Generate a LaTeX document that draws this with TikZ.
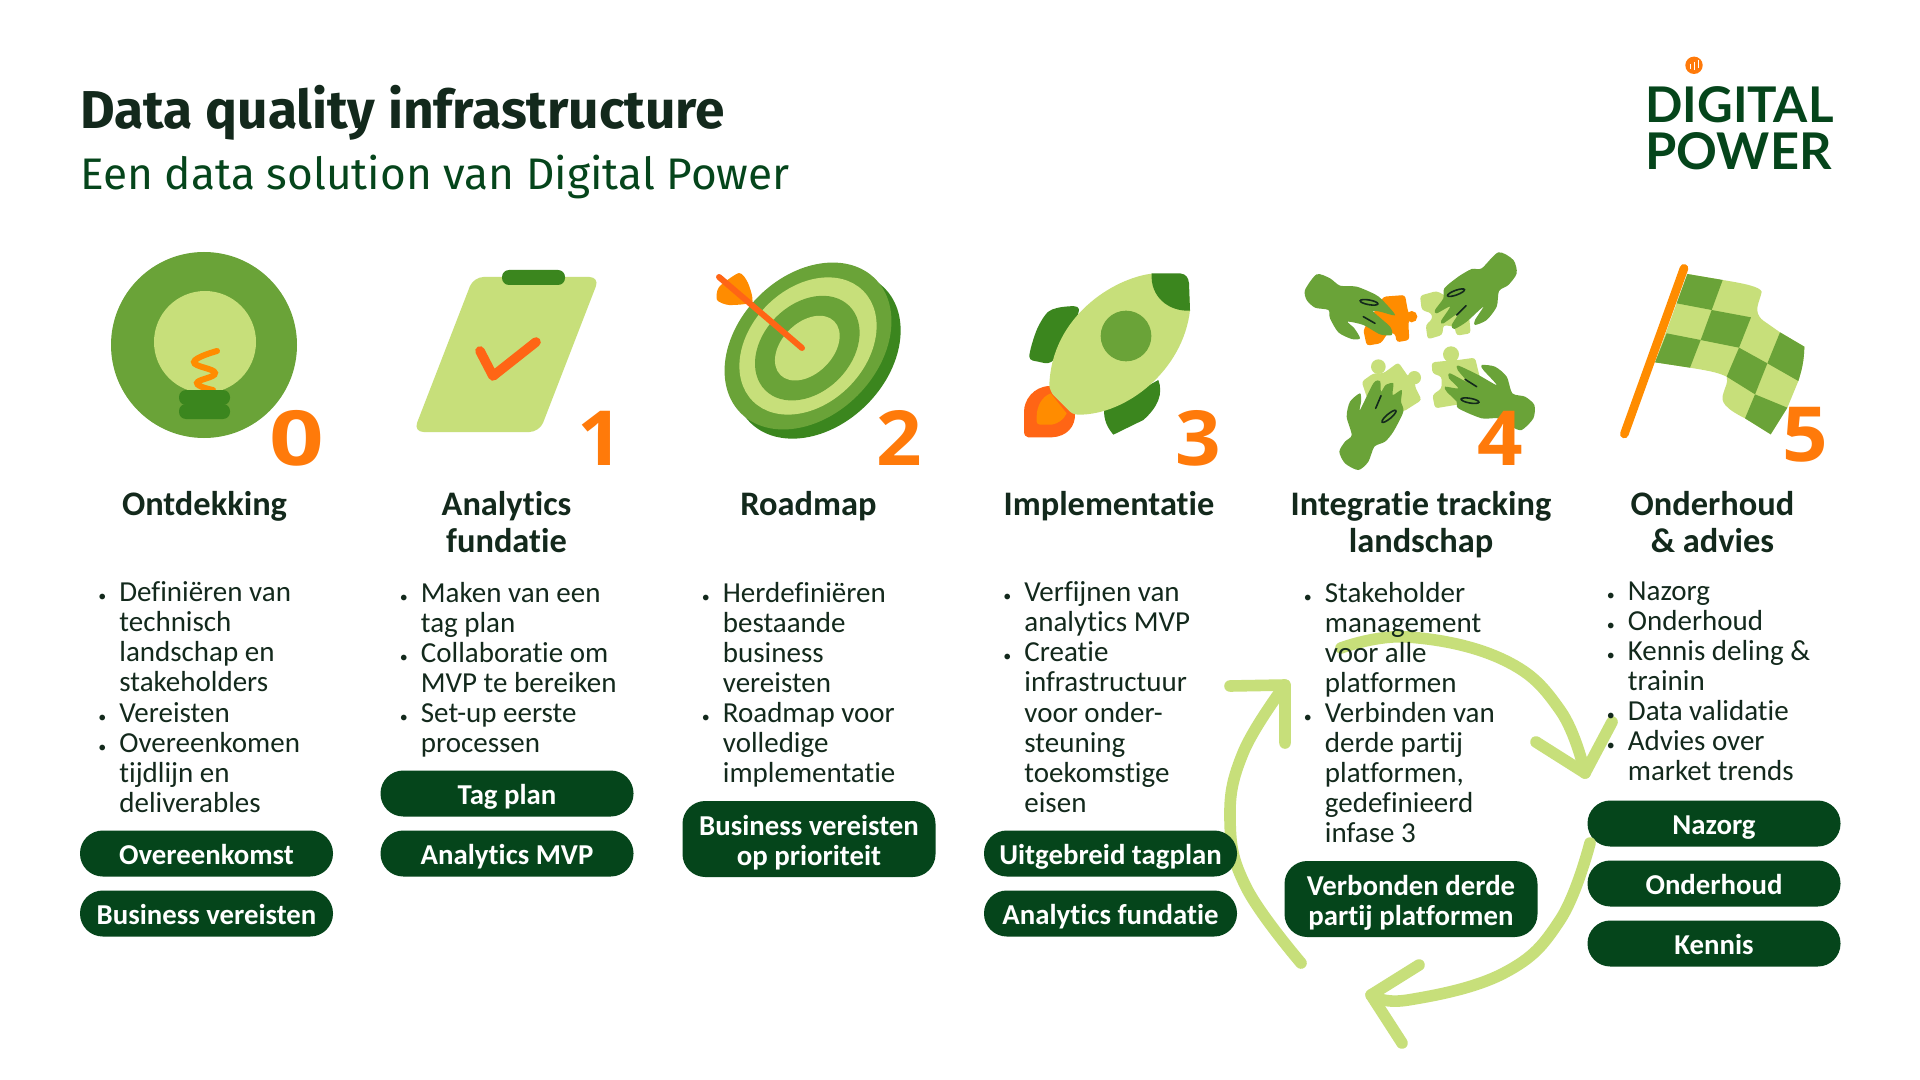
\documentclass[tikz,border=0pt]{standalone}
\usepackage{fontspec}
\setmainfont{Carlito}[Ligatures=NoCommon]
\newfontfamily\headfont{Fira Sans}
\newfontfamily\logofont{Lato}
\newfontfamily\digitfont{Open Sans}
\usetikzlibrary{calc}

\definecolor{pinegreen}{HTML}{05451B}
\definecolor{inkgreen}{HTML}{13291C}
\definecolor{midgreen}{HTML}{6AA338}
\definecolor{deepgreen}{HTML}{3B861E}
\definecolor{palegreen}{HTML}{C7DF7A}
\definecolor{amber}{HTML}{FF8C00}
\definecolor{flame}{HTML}{FF6515}
\definecolor{digitorange}{HTML}{FF7A0A}

\tikzset{
    pill/.style={fill=pinegreen, text=white, rounded corners=11.4pt, minimum width=126.5pt,
        minimum height=23pt, inner sep=0pt, align=center,
        font=\fontsize{14.4}{15.1}\selectfont\bfseries,
        execute at begin node=\rule[-3.3pt]{0pt}{17.1pt}},
    pilltwo/.style={pill, minimum height=38pt},
    bulletlist/.style={anchor=north west, inner sep=0pt, align=left, text=inkgreen,
        font=\fontsize{14.5}{15.02}\selectfont, execute at begin node=\rule{0pt}{11pt}},
    coltitle/.style={anchor=north, inner sep=0pt, align=center, text=inkgreen,
        font=\fontsize{17.2}{18.4}\selectfont\bfseries, execute at begin node=\rule{0pt}{14pt}},
    numeral/.style={anchor=base, inner sep=0pt, text=digitorange, xscale=1.05, transform shape,
        font=\digitfont\fontsize{38}{38}\selectfont\bfseries},
    cyclearc/.style={draw=palegreen, line width=5.8pt, line cap=round, line join=round},
    nail/.style={draw=inkgreen, line width=.8pt, line cap=round},
    zoomed/.style={x=.16667pt, y=-.16667pt}
}

\newcommand{\bl}{\makebox[10.5pt][l]{\fontsize{8}{8}\selectfont •}}
\newcommand{\ct}{\hspace*{10.5pt}}
\newcommand{\topline}{\rule{0pt}{14.5pt}}

\begin{document}
\begin{tikzpicture}[x=.5pt,y=-.5pt]
    \def\handtl{plot[smooth cycle, tension=.45] coordinates {(30,135) (65,88) (105,100) (135,122)
        (185,125) (240,148) (262,165) (300,210) (255,200) (235,200) (285,245) (290,270) (255,268)
        (205,240) (158,230) (178,250) (195,280) (170,282) (130,262) (105,220) (100,195) (60,188) (35,165)}}
    \def\handtr{plot[smooth cycle, tension=.45] coordinates {(610,22) (655,45) (665,85) (640,120)
        (612,138) (605,185) (575,225) (540,240) (540,225) (565,185) (515,230) (478,252) (470,240)
        (490,205) (445,235) (438,228) (465,185) (425,205) (420,195) (445,160) (448,130) (490,95)
        (530,72) (560,70)}}
    \def\handbl{plot[smooth cycle, tension=.45] coordinates {(190,675) (150,655) (133,620) (150,590)
        (170,570) (155,515) (165,470) (195,445) (198,470) (195,495) (235,415) (255,408) (258,440)
        (272,420) (295,415) (293,450) (320,435) (318,470) (325,500) (295,560) (270,590) (238,605) (220,650)}}
    \def\handbr{plot[smooth cycle, tension=.45] coordinates {(680,555) (715,520) (718,480) (690,455)
        (652,445) (635,395) (600,365) (560,360) (565,375) (605,420) (550,390) (490,362) (488,375)
        (515,410) (465,385) (462,400) (490,430) (450,425) (455,440) (485,470) (490,490) (560,520)
        (610,520) (650,545)}}

    \useasboundingbox (0,0) rectangle (1920,1080);
    \fill[white] (0,0) rectangle (1920,1080);

    % heading and logo
    \node[anchor=base west, inner sep=0pt, text=inkgreen, font=\headfont\fontsize{26.65}{27}\selectfont\bfseries] (heading) at (80,129) {Data quality infrastructure};
    \node[anchor=base west, inner sep=0pt, text=pinegreen, font=\headfont\fontsize{22.1}{22}\selectfont] (subheading) at (80,190) {Een data solution van Digital Power};
    \node[anchor=base west, inner sep=0pt, text=pinegreen, font=\logofont\fontsize{24.6}{25}\selectfont\bfseries] (logoa) at (1645,123) {DIGITAL};
    \node[anchor=base west, inner sep=0pt, text=pinegreen, font=\logofont\fontsize{25.3}{25}\selectfont\bfseries] (logob) at (1645,170) {POWER};
    \fill[digitorange] (1694,65.3) circle (8.7);
    \draw[white, line width=.5pt] (1690,64) -- (1690,69) (1694,62) -- (1694,70) (1698,60) -- (1698,68);

    % bulb
    \fill[midgreen] (204,345) circle (93);
    \fill[palegreen] (205,342) circle (51);
    \draw[amber, line width=3pt, line cap=round] plot[smooth, tension=.8] coordinates {(217,351) (194,362) (215,373) (197,383) (213,390)};
    \fill[deepgreen, rounded corners=3.5pt] (179,390) rectangle (230,405);
    \fill[deepgreen, rounded corners=3.5pt] (179,404) rectangle (230,419);

    % clipboard
    \fill[palegreen, rounded corners=5pt] (473.5,277) -- (599.5,277) -- (539.5,432) -- (413.5,432) -- cycle;
    \fill[deepgreen, rounded corners=3.5pt] (502,270) rectangle (565,285);
    \draw[flame, line width=4.8pt, line cap=round, line join=round] (480,351) -- (493,376) -- (536,342);

    % target
    \begin{scope}[shift={(808,346)}, rotate=45]
        \fill[deepgreen] (0,13) circle [x radius=95, y radius=70];
        \fill[midgreen] (0,0) circle [x radius=95, y radius=70];
        \fill[palegreen] (0,0) circle [x radius=78, y radius=57.7];
        \fill[midgreen] (-2,1) circle [x radius=59.5, y radius=44];
        \fill[palegreen] (-2,1) circle [x radius=38, y radius=25.5];
    \end{scope}
    \fill[amber] plot[smooth cycle, tension=.4] coordinates {(719,287) (739,273) (748,283) (752,302) (729,305) (717,300)};
    \draw[flame, line width=3pt, line cap=round] (719,277) -- (802,348);

    % rocket
    \begin{scope}[shift={(1010,260)}, zoomed]
        \fill[deepgreen] plot[smooth cycle, tension=.5] coordinates {(207,148) (165,140) (115,155) (80,210) (58,290) (85,305) (125,305) (170,240)};
        \fill[deepgreen] (445,360) .. controls (460,400) and (445,440) .. (400,480) -- (310,524) .. controls (290,500) and (282,480) .. (282,450) -- cycle;
        \fill[flame] (118,378) .. controls (70,380) and (42,420) .. (42,455) -- (42,515) .. controls (42,525) and (48,532) .. (55,532) -- (125,532) .. controls (170,530) and (197,500) .. (195,460) -- cycle;
        \fill[amber] (122,400) .. controls (95,410) and (80,440) .. (80,470) -- (80,485) .. controls (80,490) and (85,494) .. (90,494) -- (125,494) .. controls (145,490) and (160,480) .. (170,460) -- cycle;
        \fill[palegreen] (425,41) .. controls (310,55) and (125,170) .. (118,375) .. controls (118,385) and (125,400) .. (130,405) -- (175,450) .. controls (185,460) and (190,463) .. (205,464) .. controls (350,465) and (520,330) .. (540,150) -- (535,70) -- cycle;
        \fill[deepgreen] (425,40) -- (510,40) .. controls (530,42) and (535,55) .. (537,70) -- (540,152) .. controls (475,155) and (420,110) .. (425,40) -- cycle;
        \fill[midgreen] (348,228) circle (76);
    \end{scope}

    % puzzle hands
    \begin{scope}[shift={(1295,245)}, zoomed]
        \fill[amber, rounded corners=1.5pt] (265,155) -- (330,150) -- (338,195) -- (345,215) -- (340,235) -- (343,285) -- (305,292) -- (300,265) -- (280,262) -- (258,295) -- (215,302) -- (205,255) -- cycle;
        \fill[amber] (350,215) circle (17);
        \fill[palegreen, rounded corners=1.5pt] (375,152) -- (425,138) -- (520,190) -- (527,265) -- (485,272) -- (478,245) -- (445,240) -- (442,270) -- (398,283) -- (392,240) -- (412,222) -- (410,205) -- (380,195) -- cycle;
        \fill[palegreen] (250,365) circle (22);
        \fill[palegreen] (358,398) circle (20);
        \fill[palegreen, rounded corners=1.5pt] (200,410) -- (235,385) -- (265,385) -- (310,352) -- (340,395) -- (360,400) -- (360,425) -- (380,465) -- (325,500) -- (220,470) -- cycle;
        \fill[palegreen] (468,328) circle (24);
        \fill[palegreen, rounded corners=1.5pt] (410,352) -- (450,348) -- (490,345) -- (540,338) -- (560,420) -- (540,470) -- (420,490) -- (412,450) -- (440,430) -- (440,395) -- (412,385) -- cycle;
        \fill[midgreen] \handtl;
        \fill[midgreen] \handtr;
        \fill[midgreen] \handbl;
        \fill[midgreen] \handbr;
        \draw[nail] (222,172) circle [x radius=27, y radius=7, rotate=-10];
        \draw[nail] (483,143) circle [x radius=27, y radius=7, rotate=20];
        \draw[nail] (282,514) circle [x radius=27, y radius=7, rotate=40];
        \draw[nail] (525,467) circle [x radius=27, y radius=7, rotate=-10];
        \draw[nail] (205,215) -- (240,235) (485,210) -- (513,182) (242,490) -- (258,452) (510,403) -- (545,425);
    \end{scope}

    % flag
    \begin{scope}[shift={(1610,255)}, zoomed]
        \fill[palegreen] (232,57) -- (338,75) .. controls (400,85) and (450,95) .. (455,110)
            .. controls (450,140) and (425,170) .. (460,197) -- (510,232) -- (583,275)
            .. controls (582,320) and (575,345) .. (565,378) -- (532,458) -- (482,538) -- (405,490)
            .. controls (345,460) and (330,440) .. (340,415) .. controls (345,395) and (355,385) .. (350,365)
            .. controls (320,350) and (280,345) .. (240,338) -- (135,322) -- cycle;
        \fill[midgreen] (232,57) -- (338,75) -- (305,165) -- (200,145) -- cycle;
        \fill[midgreen] (305,165) -- (423,187) -- (387,278) -- (272,255) -- cycle;
        \fill[midgreen] (170,235) -- (272,255) -- (240,338) -- (135,322) -- cycle;
        \fill[midgreen] (510,232) -- (583,275) .. controls (582,320) and (575,345) .. (565,378) -- (472,325) -- cycle;
        \fill[midgreen] (387,278) -- (472,325) -- (435,418) -- (350,365) -- cycle;
        \fill[midgreen] (435,418) -- (532,458) -- (482,538) -- (405,490) -- cycle;
        \draw[amber, line width=4.3pt, line cap=round] (222,40) -- (43,537);
    \end{scope}

    % numerals
    \node[numeral, xscale=1.2] (num0) at (296.8,465) {0};
    \node[numeral] (num1) at (600,465) {1};
    \node[numeral] (num2) at (899.5,465) {2};
    \node[numeral] (num3) at (1198,465) {3};
    \node[numeral] (num4) at (1500.5,465) {4};
    \node[numeral] (num5) at (1805.5,461) {5};

    % cycle behind the text
    \draw[cyclearc] plot[smooth, tension=.7] coordinates {(1341,648) (1408,637) (1504,660) (1560,710) (1585,773)};
    \draw[cyclearc] (1536,742) -- (1585,773) -- (1612,722);
    \draw[cyclearc] plot[smooth, tension=.7] coordinates {(1301,963) (1246,887) (1230,820) (1243,753) (1285,685)};
    \draw[cyclearc] (1230,686) -- (1285,685) -- (1285,743);

    % column titles
    \node[coltitle] (title0) at (204.5,487.5) {Ontdekking};
    \node[coltitle] (title1) at (506.5,491) {Analytics\\fundatie};
    \node[coltitle] (title2) at (808.5,487.5) {Roadmap};
    \node[coltitle] (title3) at (1109,487.5) {Implementatie};
    \node[coltitle] (title4) at (1421,491) {Integratie tracking\\landschap};
    \node[coltitle] (title5) at (1712.5,491) {Onderhoud\\\& advies};

    % bullet lists
    \node[bulletlist] (list0) at (98,581.5) {\bl Definiëren van\\\ct technisch\\\ct landschap en\\\ct stakeholders\\\bl Vereisten\\\bl Overeenkomen\\\ct tijdlijn en\\\ct deliverables};
    \node[bulletlist] (list1) at (399.5,581.5) {\bl Maken van een\\\ct tag plan\\\bl Collaboratie om\\\ct MVP te bereiken\\\bl Set-up eerste\\\ct processen};
    \node[bulletlist] (list2) at (701.5,581.5) {\bl Herdefiniëren\\\ct bestaande\\\ct business\\\ct vereisten\\\bl Roadmap voor\\\ct volledige\\\ct implementatie};
    \node[bulletlist] (list3) at (1003,581.5) {\bl Verfijnen van\\\ct analytics MVP\\\bl Creatie\\\ct infrastructuur\\\ct voor onder-\\\ct steuning\\\ct toekomstige\\\ct eisen};
    \node[bulletlist] (list4) at (1303.5,581.5) {\bl Stakeholder\\\ct management\\\ct voor alle\\\ct platformen\\\bl Verbinden van\\\ct derde partij\\\ct platformen,\\\ct gedefinieerd\\\ct infase 3};
    \node[bulletlist] (list5) at (1606.5,581.5) {\bl Nazorg\\\bl Onderhoud\\\bl Kennis deling \&\\\ct trainin\\\bl Data validatie\\\bl Advies over\\\ct market trends};

    % deliverables
    \node[pill] (pilla) at (206.5,853.5) {Overeenkomst};
    \node[pill] (pillb) at (206.5,913.5) {Business vereisten};
    \node[pill] (pillc) at (507,793.5) {Tag plan};
    \node[pill] (pilld) at (507,853.5) {Analytics MVP};
    \node[pilltwo] (pille) at (809,839) {\topline Business vereisten\\op prioriteit};
    \node[pill] (pillf) at (1110.5,853.5) {Uitgebreid tagplan};
    \node[pill] (pillg) at (1110.5,913.5) {Analytics fundatie};
    \node[pilltwo] (pillh) at (1411,899) {\topline Verbonden derde\\partij platformen};
    \node[pill] (pilli) at (1714,823.5) {Nazorg};
    \node[pill] (pillj) at (1714,883.5) {Onderhoud};
    \node[pill] (pillk) at (1714,943.5) {Kennis};

    % cycle over the pills
    \draw[cyclearc] plot[smooth, tension=.7] coordinates {(1590,843) (1560,920) (1504,973) (1408,1000) (1371,995)};
    \draw[cyclearc] (1419,965) -- (1371,995) -- (1402,1043);
\end{tikzpicture}
\end{document}
